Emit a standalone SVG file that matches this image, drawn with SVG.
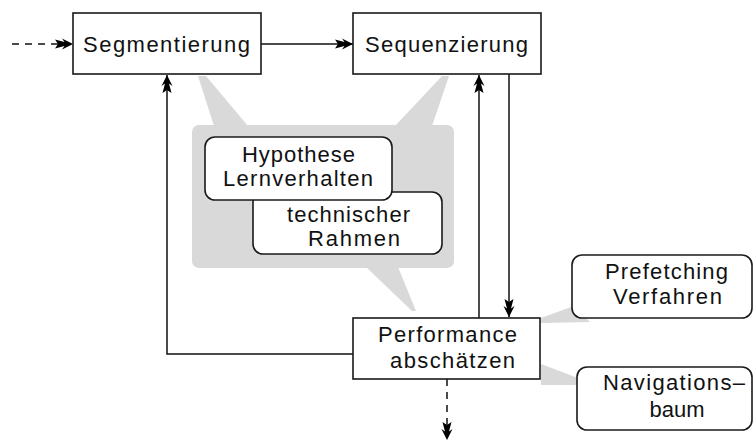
<svg xmlns="http://www.w3.org/2000/svg" width="755" height="443" viewBox="0 0 755 443">
<style>
.box{fill:#fff;stroke:#1a1a1a;stroke-width:1.6}
.note{fill:#fff;stroke:#1a1a1a;stroke-width:1.6}
.gray{fill:#d9d9d9;stroke:none}
.t{font-family:"Liberation Sans",Arial,sans-serif;font-size:22px;fill:#111}
.ln{fill:none;stroke:#111;stroke-width:1.5}
.dash{stroke-dasharray:7 6}
</style>
<defs>
<marker id="ah" markerUnits="userSpaceOnUse" markerWidth="22" markerHeight="14" viewBox="-20 -7 22 14" refX="0" refY="0" orient="auto">
<path d="M0,0 L-11,-5.5 L-8.5,-2 L-18,-4.5 L-15,0 L-18,4.5 L-8.5,2 L-11,5.5 Z" fill="#000"/>
</marker>
</defs>
<g id="callouts">
<rect class="gray" x="192" y="125" width="262" height="143" rx="7"/>
<polygon class="gray" points="198,76 206,76 248,126 214,126"/>
<polygon class="gray" points="442,76 449,76 432,126 395,126"/>
<polygon class="gray" points="366,267 398,267 416,311 412,311"/>
<polygon class="gray" points="541,318 574,306 590,322 541,323"/>
<polygon class="gray" points="541,364 578,378 578,385 541,385"/>
</g>
<g id="connectors">
<path class="ln dash" d="M12,44 L73,44" marker-end="url(#ah)"/>
<path class="ln" d="M261,44 L353,44" marker-end="url(#ah)"/>
<path class="ln" d="M353,354 L167,354 L167,75" marker-end="url(#ah)"/>
<path class="ln" d="M479,318 L479,75" marker-end="url(#ah)"/>
<path class="ln" d="M509,74 L509,317" marker-end="url(#ah)"/>
<path class="ln dash" d="M447,379 L447,440" marker-end="url(#ah)"/>
</g>
<g id="segmentierung">
<rect class="box" x="73" y="13" width="188" height="61"/>
<text class="t" x="83" y="52" textLength="167" lengthAdjust="spacing">Segmentierung</text>
</g>
<g id="sequenzierung">
<rect class="box" x="353" y="13" width="188" height="61"/>
<text class="t" x="365" y="52" textLength="163" lengthAdjust="spacing">Sequenzierung</text>
</g>
<g id="technischer-rahmen">
<rect class="note" x="253" y="192" width="189" height="62" rx="10"/>
<text class="t" x="287" y="222" textLength="123" lengthAdjust="spacing">technischer</text>
<text class="t" x="308" y="246" textLength="92" lengthAdjust="spacing">Rahmen</text>
</g>
<g id="hypothese-lernverhalten">
<rect class="note" x="205" y="137" width="187" height="63" rx="10"/>
<text class="t" x="242" y="162" textLength="113" lengthAdjust="spacing">Hypothese</text>
<text class="t" x="223" y="186" textLength="150" lengthAdjust="spacing">Lernverhalten</text>
</g>
<g id="performance">
<rect class="box" x="353" y="318" width="187" height="61"/>
<text class="t" x="378" y="342" textLength="139" lengthAdjust="spacing">Performance</text>
<text class="t" x="390" y="368" textLength="125" lengthAdjust="spacing">abschätzen</text>
</g>
<g id="prefetching">
<rect class="note" x="572" y="255" width="180" height="63" rx="10"/>
<text class="t" x="605" y="279" textLength="123" lengthAdjust="spacing">Prefetching</text>
<text class="t" x="613" y="304" textLength="109" lengthAdjust="spacing">Verfahren</text>
</g>
<g id="navigationsbaum">
<rect class="note" x="577" y="367" width="175" height="63" rx="10"/>
<text class="t" x="603" y="390" textLength="142" lengthAdjust="spacing">Navigations–</text>
<text class="t" x="677" y="417" text-anchor="middle">baum</text>
</g>
</svg>
